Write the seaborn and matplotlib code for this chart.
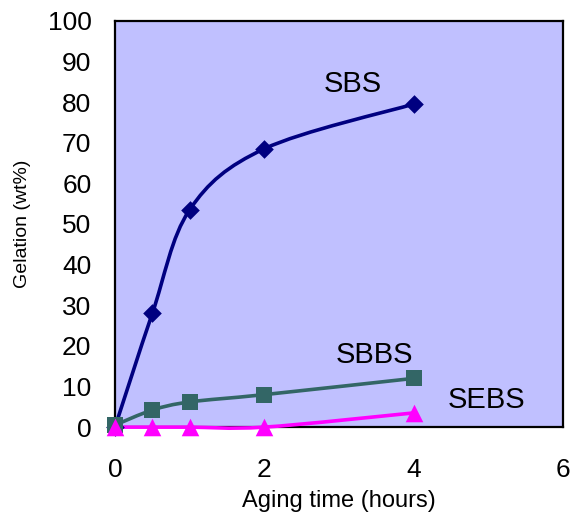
import matplotlib
matplotlib.use("Agg")
import matplotlib.pyplot as plt
import numpy as np
import seaborn as sns
from matplotlib.path import Path
from matplotlib.patches import PathPatch

sns.set_style("white")
plt.rcParams['font.family'] = ['Liberation Sans', 'DejaVu Sans']
plt.rcParams['text.color'] = 'black'
plt.rcParams['axes.labelcolor'] = 'black'
plt.rcParams['xtick.color'] = 'black'
plt.rcParams['ytick.color'] = 'black'

# data
hours = [0, 0.5, 1, 2, 4]
sbs = [0, 28, 53.5, 68.5, 79.5]
sbbs = [0.5, 4.2, 6.2, 8.0, 12.0]
sebs = [0, 0, 0, 0, 3.5]

xticks = [0, 2, 4, 6]
yticks = list(range(0, 101, 10))


# Excel-like smoothed line: cubic bezier through the data points
def smooth_path(x, y):
    p = np.column_stack([x, y]).astype(float)
    ext = np.vstack([p[0], p, p[-1]])
    verts = [p[0]]
    codes = [Path.MOVETO]
    for i in range(len(p) - 1):
        p0, p1, p2, p3 = ext[i], ext[i + 1], ext[i + 2], ext[i + 3]
        c1 = p1 + (p2 - p0) / 6
        c2 = p2 - (p3 - p1) / 6
        verts += [c1, c2, p2]
        codes += [Path.CURVE4] * 3
    return Path(verts, codes)


fig, ax = plt.subplots(figsize=(5.71, 5.19), dpi=100)
fig.subplots_adjust(left=0.2014, right=0.986, bottom=0.177, top=0.96)
ax.set_facecolor("#C0C0FF")

series = [
    (sbs, "#000080", "D", 90),
    (sbbs, "#336666", "s", 120),
    (sebs, "#FF00FF", "^", 160),
]
for vals, col, mk, sz in series:
    patch = PathPatch(smooth_path(hours, vals), facecolor="none", edgecolor=col,
                      lw=2.6, transform=ax.transData, clip_on=False, zorder=3)
    ax.add_patch(patch)
    sns.scatterplot(x=hours, y=vals, marker=mk, color=col, s=sz, linewidth=0,
                    ax=ax, zorder=4, clip_on=False)

ax.set_xlim(0, 6)
ax.set_ylim(0, 100)
ax.set_xticks(xticks)
ax.set_yticks(yticks)
ax.tick_params(axis="both", direction="in", length=7, width=1, color="#333333",
               labelsize=19, labelcolor="black")
ax.tick_params(axis="x", pad=22)
ax.tick_params(axis="y", pad=17)
for s in ax.spines.values():
    s.set_visible(True)
    s.set_color("black")
    s.set_linewidth(1.6)

ax.set_xlabel("Aging time (hours)", fontsize=17, labelpad=6)
ax.set_ylabel("Gelation (wt%)", fontsize=14, labelpad=12)

ax.text(3.19, 84.5, "SBS", fontsize=21, ha="center", va="center")
ax.text(3.47, 17.7, "SBBS", fontsize=21, ha="center", va="center")
ax.text(4.98, 6.6, "SEBS", fontsize=21, ha="center", va="center")

fig.savefig("out.png", dpi=100)
